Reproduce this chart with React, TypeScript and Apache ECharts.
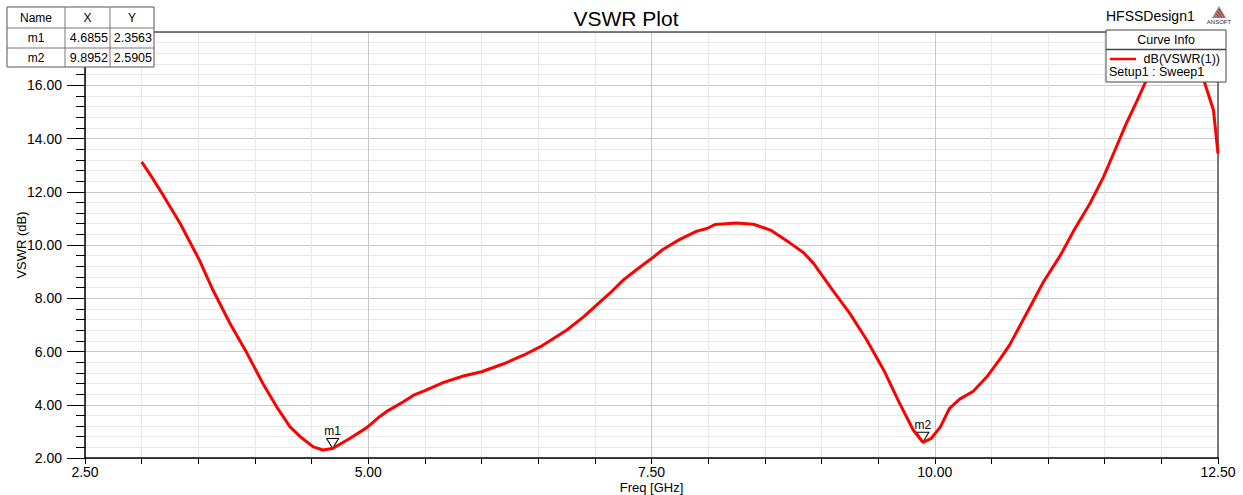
import React, { useEffect, useRef } from "react";
import * as echarts from "echarts";

const freq = [
  3.0, 3.07, 3.19, 3.34, 3.51, 3.63, 3.78, 3.93, 4.07, 4.19, 4.31, 4.4, 4.515, 4.6, 4.6855,
  4.84, 4.99, 5.1, 5.16, 5.31, 5.4, 5.5, 5.66, 5.84, 6.0, 6.19, 6.37, 6.52, 6.75, 6.9, 7.13,
  7.25, 7.37, 7.5, 7.6, 7.75, 7.9, 7.99, 8.06, 8.25, 8.4, 8.55, 8.72, 8.84, 8.93, 9.1, 9.25,
  9.4, 9.55, 9.69, 9.81, 9.8952, 9.97, 10.05, 10.13, 10.22, 10.34, 10.46, 10.58, 10.66, 10.81,
  10.96, 11.11, 11.23, 11.37, 11.49, 11.59, 11.69, 11.78, 11.86, 11.95, 12.05, 12.15, 12.25,
  12.33, 12.38, 12.46, 12.5,
];
const vswrDb = [
  13.12, 12.68, 11.87, 10.81, 9.43, 8.3, 7.05, 5.93, 4.8, 3.93, 3.17, 2.8, 2.42, 2.3, 2.3563,
  2.74, 3.15, 3.55, 3.74, 4.11, 4.36, 4.53, 4.83, 5.08, 5.24, 5.53, 5.86, 6.18, 6.8, 7.3, 8.18,
  8.68, 9.08, 9.49, 9.83, 10.21, 10.52, 10.62, 10.77, 10.83, 10.78, 10.56, 10.08, 9.72, 9.31,
  8.3, 7.43, 6.43, 5.3, 4.05, 3.05, 2.5905, 2.74, 3.17, 3.86, 4.21, 4.51, 5.05, 5.74, 6.24, 7.43,
  8.62, 9.62, 10.56, 11.56, 12.56, 13.56, 14.56, 15.37, 16.12, 16.8, 17.3, 17.5, 17.3, 16.7,
  16.12, 15.06, 13.43,
];

const markerNames = ["m1", "m2"];
const markerX = [4.6855, 9.8952];
const markerY = [2.3563, 2.5905];

const tableHeaders = ["Name", "X", "Y"];

const FONT = "'Liberation Sans', Arial, sans-serif";

export default function App() {
  const ref = useRef<HTMLDivElement>(null);

  useEffect(() => {
    document.body.style.margin = "0";
    if (!ref.current) return;
    const chart = echarts.init(ref.current, null, { renderer: "svg" });

    const data = freq.map((f, i) => [f, vswrDb[i]]);

    const colX = [7, 65, 110, 154];
    const rowY = [7, 28, 48, 67];
    const tableEls: any[] = [];
    tableEls.push({
      type: "rect",
      shape: { x: colX[0], y: rowY[0], width: colX[3] - colX[0], height: rowY[3] - rowY[0] },
      style: { fill: "#fff", stroke: "#555", lineWidth: 1 },
      z: 100,
    });
    for (let c = 1; c < 3; c++) {
      tableEls.push({
        type: "line",
        shape: { x1: colX[c], y1: rowY[0], x2: colX[c], y2: rowY[3] },
        style: { stroke: "#777", lineWidth: 1 },
        z: 101,
      });
    }
    for (let r = 1; r < 3; r++) {
      tableEls.push({
        type: "line",
        shape: { x1: colX[0], y1: rowY[r], x2: colX[3], y2: rowY[r] },
        style: { stroke: "#777", lineWidth: 1 },
        z: 101,
      });
    }
    tableHeaders.forEach((h, c) => {
      tableEls.push({
        type: "text",
        x: (colX[c] + colX[c + 1]) / 2,
        y: (rowY[0] + rowY[1]) / 2,
        style: { text: h, fill: "#000", font: `12px ${FONT}`, align: "center", verticalAlign: "middle" },
        z: 102,
      });
    });
    markerNames.forEach((n, i) => {
      const cy = (rowY[i + 1] + rowY[i + 2]) / 2;
      tableEls.push({
        type: "text",
        x: (colX[0] + colX[1]) / 2,
        y: cy,
        style: { text: n, fill: "#000", font: `12px ${FONT}`, align: "center", verticalAlign: "middle" },
        z: 102,
      });
      tableEls.push({
        type: "text",
        x: colX[2] - 2,
        y: cy,
        style: { text: markerX[i].toFixed(4), fill: "#000", font: `12.5px ${FONT}`, align: "right", verticalAlign: "middle" },
        z: 102,
      });
      tableEls.push({
        type: "text",
        x: colX[3] - 2,
        y: cy,
        style: { text: markerY[i].toFixed(4), fill: "#000", font: `12.5px ${FONT}`, align: "right", verticalAlign: "middle" },
        z: 102,
      });
    });

    const legendEls: any[] = [
      {
        type: "rect",
        shape: { x: 1106, y: 30, width: 120, height: 52 },
        style: { fill: "#fff", stroke: "#444", lineWidth: 1 },
        z: 100,
      },
      {
        type: "line",
        shape: { x1: 1106, y1: 49.5, x2: 1226, y2: 49.5 },
        style: { stroke: "#444", lineWidth: 1.5 },
        z: 101,
      },
      {
        type: "text",
        x: 1166,
        y: 40,
        style: { text: "Curve Info", fill: "#000", font: `12.5px ${FONT}`, align: "center", verticalAlign: "middle" },
        z: 102,
      },
      {
        type: "line",
        shape: { x1: 1110, y1: 59, x2: 1136, y2: 59 },
        style: { stroke: "#ff0000", lineWidth: 2.5 },
        z: 102,
      },
      {
        type: "text",
        x: 1220,
        y: 59,
        style: { text: "dB(VSWR(1))", fill: "#000", font: `12.5px ${FONT}`, align: "right", verticalAlign: "middle" },
        z: 102,
      },
      {
        type: "text",
        x: 1109,
        y: 72,
        style: { text: "Setup1 : Sweep1", fill: "#000", font: `12.5px ${FONT}`, align: "left", verticalAlign: "middle" },
        z: 102,
      },
    ];

    const logoEls: any[] = [
      {
        type: "text",
        x: 1106,
        y: 16,
        style: { text: "HFSSDesign1", fill: "#000", font: `14px ${FONT}`, align: "left", verticalAlign: "middle" },
        z: 102,
      },
      {
        type: "polygon",
        shape: { points: [[1219, 6], [1212, 18], [1226, 18]] },
        style: { fill: "#8a8a8a" },
        z: 102,
      },
      {
        type: "line",
        shape: { x1: 1219, y1: 9, x2: 1224, y2: 17 },
        style: { stroke: "#e02020", lineWidth: 1 },
        z: 103,
      },
      {
        type: "line",
        shape: { x1: 1217.5, y1: 11, x2: 1221.5, y2: 17.5 },
        style: { stroke: "#e02020", lineWidth: 1 },
        z: 103,
      },
      {
        type: "line",
        shape: { x1: 1216, y1: 13.5, x2: 1219, y2: 17.5 },
        style: { stroke: "#e02020", lineWidth: 1 },
        z: 103,
      },
      {
        type: "text",
        x: 1219,
        y: 22,
        style: { text: "ANSOFT", fill: "#222", font: `6px ${FONT}`, align: "center", verticalAlign: "middle" },
        z: 102,
      },
    ];

    const option: any = {
      animation: false,
      backgroundColor: "#fff",
      title: {
        text: "VSWR Plot",
        left: 621,
        top: 3,
        textAlign: "center",
        textStyle: { fontFamily: FONT, fontSize: 21, fontWeight: "normal", color: "#000" },
      },
      grid: { left: 85, right: 25, top: 32, bottom: 37, containLabel: false, outerBoundsMode: "none" },
      xAxis: [
        {
          type: "value",
          min: 2.5,
          max: 12.5,
          interval: 2.5,
          name: "Freq [GHz]",
          nameLocation: "middle",
          nameGap: 23,
          nameMoveOverlap: false,
          nameTextStyle: { fontFamily: FONT, fontSize: 13, color: "#000", lineHeight: 13 },
          axisLine: { show: true, onZero: false, lineStyle: { color: "#000", width: 1.5 } },
          axisTick: { show: true, length: 6, lineStyle: { color: "#000" } },
          minorTick: { show: true, splitNumber: 5, length: 6, lineStyle: { color: "#000" } },
          splitLine: { show: true, lineStyle: { color: "#c8c8c8", width: 1 } },
          minorSplitLine: { show: true, lineStyle: { color: "#e8e8e8", width: 1 } },
          axisLabel: {
            formatter: (v: number) => v.toFixed(2),
            fontFamily: FONT,
            fontSize: 14,
            lineHeight: 14,
            color: "#000",
            margin: 7,
            showMinLabel: true,
            showMaxLabel: true,
          },
        },
        {
          type: "value",
          position: "top",
          min: 2.5,
          max: 12.5,
          interval: 2.5,
          axisLine: { show: true, onZero: false, lineStyle: { color: "#555", width: 1.5 } },
          axisTick: { show: false },
          axisLabel: { show: false },
          splitLine: { show: false },
        },
      ],
      yAxis: [
        {
          type: "value",
          min: 2,
          max: 18,
          interval: 2,
          name: "VSWR (dB)",
          nameLocation: "middle",
          nameGap: 57,
          nameMoveOverlap: false,
          nameTextStyle: { fontFamily: FONT, fontSize: 13, color: "#000", lineHeight: 13 },
          axisLine: { show: true, onZero: false, lineStyle: { color: "#000", width: 1.5 } },
          axisTick: { show: true, length: 18, lineStyle: { color: "#000" } },
          minorTick: { show: true, splitNumber: 5, length: 9, lineStyle: { color: "#000" } },
          splitLine: { show: true, lineStyle: { color: "#c8c8c8", width: 1 } },
          minorSplitLine: { show: true, lineStyle: { color: "#e8e8e8", width: 1 } },
          axisLabel: {
            formatter: (v: number) => (v >= 18 ? "" : v.toFixed(2)),
            fontFamily: FONT,
            fontSize: 14,
            color: "#000",
            margin: 23,
          },
        },
        {
          type: "value",
          position: "right",
          min: 2,
          max: 18,
          interval: 2,
          axisLine: { show: true, onZero: false, lineStyle: { color: "#555", width: 1.5 } },
          axisTick: { show: false },
          axisLabel: { show: false },
          splitLine: { show: false },
        },
      ],
      series: [
        {
          name: "dB(VSWR(1))",
          type: "line",
          xAxisIndex: 0,
          yAxisIndex: 0,
          data,
          showSymbol: false,
          smooth: false,
          lineStyle: { color: "#ff0000", width: 3 },
          z: 5,
          markPoint: {
            symbol: "path://M0,0 L12,0 L6,10 Z",
            symbolSize: [12, 10],
            symbolOffset: [0, -5],
            itemStyle: { color: "#fff", borderColor: "#000", borderWidth: 1 },
            label: {
              show: true,
              position: "top",
              distance: 1,
              formatter: "{b}",
              color: "#000",
              fontFamily: FONT,
              fontSize: 12,
            },
            data: markerNames.map((n, i) => ({ name: n, coord: [markerX[i], markerY[i]] })),
          },
        },
      ],
      graphic: [...tableEls, ...legendEls, ...logoEls],
    };

    chart.setOption(option);
    return () => chart.dispose();
  }, []);

  return <div ref={ref} style={{ width: 1243, height: 495 }} />;
}
